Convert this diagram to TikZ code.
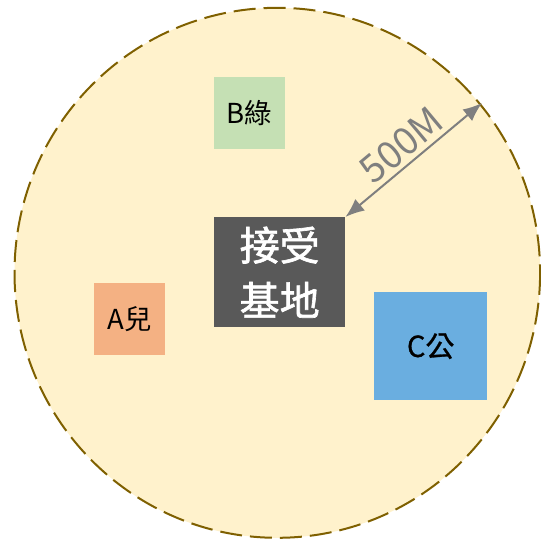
\documentclass[tikz,border=0pt]{standalone}
\usepackage{fontspec}
\setmainfont{Noto Sans CJK TC}
\newfontfamily\cjkthick{Noto Sans CJK TC}[FakeBold=1.6]
\newfontfamily\cjksemi{Noto Sans CJK TC}[FakeBold=0.9]
\usetikzlibrary{arrows.meta}
\definecolor{zonefill}{HTML}{FFF2CC}
\definecolor{zoneline}{HTML}{7F6000}
\definecolor{bgreen}{HTML}{C5E0B4}
\definecolor{aorange}{HTML}{F4B183}
\definecolor{cblue}{HTML}{6AAEE0}
\definecolor{basegray}{HTML}{595959}
\definecolor{arrgray}{HTML}{7F7F7F}
\tikzset{
  box/.style={draw=none, inner sep=0pt, anchor=north west},
  smalltxt/.style={font=\fontsize{27.5}{32}\selectfont, text=black},
  arr/.style={draw=arrgray, line width=2pt, {Latex[length=19pt,width=15pt]}-{Latex[length=19pt,width=15pt]}},
}
\begin{document}
\begin{tikzpicture}[x=1pt,y=-1pt]
\useasboundingbox (0,0) rectangle (541,539);
\draw[fill=zonefill, draw=zoneline, line width=2pt, dash pattern=on 22pt off 8pt] (277.3,272.8) ellipse [x radius=262.8, y radius=265];
\node[box, fill=bgreen, minimum width=71pt, minimum height=72pt, smalltxt] (b) at (214,77) {B綠};
\node[box, fill=aorange, minimum width=71pt, minimum height=72pt, smalltxt] (a) at (94,283) {A兒};
\node[box, fill=cblue, minimum width=113pt, minimum height=108pt, font=\fontsize{29}{32}\cjksemi, text=black] (c) at (374,292) {C公};
\node[box, fill=basegray, minimum width=131pt, minimum height=110pt, text=white, align=center, font=\fontsize{40}{55}\cjkthick] (base) at (214,217) {接受\\基地};
\coordinate (edge) at (482,103);
\draw[arr] (base.north east) -- node[midway, sloped, above=1pt, text=arrgray, font=\fontsize{38}{40}\selectfont] (lbl) {500M} (edge);
\end{tikzpicture}
\end{document}
